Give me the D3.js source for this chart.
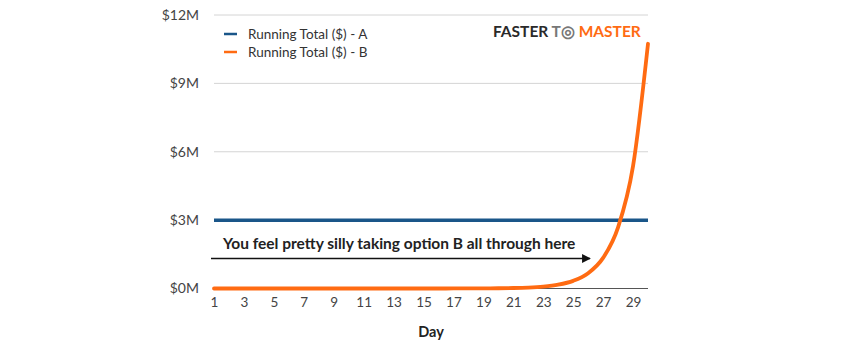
<!DOCTYPE html>
<html>
<head>
<meta charset="utf-8">
<script src="https://cdn.jsdelivr.net/npm/d3@7"></script>
<style>
  body { margin: 0; background: #fff; }
  svg text { font-family: Lato, "Open Sans", sans-serif; }
</style>
</head>
<body>
<svg id="chart" width="867" height="345"></svg>
<script>
// Data
const days = d3.range(1, 31);
const totalA = [3000000, 3000000, 3000000, 3000000, 3000000, 3000000, 3000000, 3000000, 3000000, 3000000,
    3000000, 3000000, 3000000, 3000000, 3000000, 3000000, 3000000, 3000000, 3000000, 3000000,
    3000000, 3000000, 3000000, 3000000, 3000000, 3000000, 3000000, 3000000, 3000000, 3000000];
const totalB = [0.01, 0.03, 0.07, 0.15, 0.31, 0.63, 1.27, 2.55, 5.11, 10.23,
    20.47, 40.95, 81.91, 163.83, 327.67, 655.35, 1310.71, 2621.43, 5242.87, 10485.75,
    20971.51, 41943.03, 83886.07, 167772.15, 335544.31, 671088.63, 1342177.27, 2684354.55, 5368709.11, 10737418.23];
const yTicks = [0, 3000000, 6000000, 9000000, 12000000];
const xTicks = [1, 3, 5, 7, 9, 11, 13, 15, 17, 19, 21, 23, 25, 27, 29];
const seriesNames = ["Running Total ($) - A", "Running Total ($) - B"];
const seriesColors = ["#1a5689", "#ff6b12"];
const annotation = "You feel pretty silly taking option B all through here";

const svg = d3.select("#chart");

// Scales
const x = d3.scaleLinear().domain([1, 30]).range([214, 648]);
const y = d3.scaleLinear().domain([0, 12000000]).range([288.5, 15]);

// Gridlines
svg.append("g")
    .selectAll("line")
    .data(yTicks.filter(d => d > 0))
    .enter().append("line")
    .attr("x1", 214).attr("x2", 648)
    .attr("y1", d => y(d)).attr("y2", d => y(d))
    .attr("stroke", "#d4d4d4")
    .attr("stroke-width", 1);

// Baseline
svg.append("line")
    .attr("x1", 214).attr("x2", 648)
    .attr("y1", y(0)).attr("y2", y(0))
    .attr("stroke", "#555")
    .attr("stroke-width", 1);

// Y axis labels
const yAxis = svg.append("g")
    .attr("transform", "translate(214,0)")
    .call(d3.axisLeft(y).tickValues(yTicks).tickSize(0).tickPadding(15)
        .tickFormat(d => "$" + (d / 1000000) + "M"));
yAxis.select(".domain").remove();
yAxis.selectAll("text")
    .style("font-family", "Lato, sans-serif")
    .style("font-size", "14px")
    .attr("fill", "#444");

// X axis labels
const xAxis = svg.append("g")
    .attr("transform", `translate(0,${y(0)})`)
    .call(d3.axisBottom(x).tickValues(xTicks).tickSize(0).tickPadding(9).tickFormat(d3.format("d")));
xAxis.select(".domain").remove();
xAxis.selectAll("text")
    .style("font-family", "Lato, sans-serif")
    .style("font-size", "13.5px")
    .attr("fill", "#444");

// X axis title
svg.append("text")
    .attr("x", 431)
    .attr("y", 337)
    .attr("text-anchor", "middle")
    .style("font-size", "14.5px")
    .style("font-weight", "bold")
    .attr("fill", "#222")
    .text("Day");

// Lines
const line = d3.line()
    .x((d, i) => x(days[i]))
    .y(d => y(d))
    .curve(d3.curveMonotoneX);

svg.append("path")
    .datum(totalA)
    .attr("d", line)
    .attr("fill", "none")
    .attr("stroke", seriesColors[0])
    .attr("stroke-width", 3.5);

svg.append("path")
    .datum(totalB)
    .attr("d", line)
    .attr("fill", "none")
    .attr("stroke", seriesColors[1])
    .attr("stroke-width", 3.8)
    .attr("stroke-linecap", "round");

// Annotation arrow
svg.append("defs").append("marker")
    .attr("id", "arrowhead")
    .attr("viewBox", "0 0 10 10")
    .attr("refX", 9).attr("refY", 5)
    .attr("markerWidth", 6.5).attr("markerHeight", 5.5)
    .attr("orient", "auto")
    .append("path")
    .attr("d", "M0,0 L10,5 L0,10 Z")
    .attr("fill", "#111");

svg.append("line")
    .attr("x1", 211).attr("x2", 590)
    .attr("y1", 258.5).attr("y2", 258.5)
    .attr("stroke", "#111")
    .attr("stroke-width", 1.6)
    .attr("marker-end", "url(#arrowhead)");

svg.append("text")
    .attr("x", 223)
    .attr("y", 249)
    .style("font-size", "15.5px")
    .style("font-weight", "bold")
    .attr("fill", "#222")
    .text(annotation);

// Legend
const legend = svg.append("g");
seriesNames.forEach((name, i) => {
    legend.append("line")
        .attr("x1", 224).attr("x2", 237)
        .attr("y1", 34 + i * 18).attr("y2", 34 + i * 18)
        .attr("stroke", seriesColors[i])
        .attr("stroke-width", 2.5);
    legend.append("text")
        .attr("x", 248)
        .attr("y", 34 + i * 18)
        .attr("dy", "0.35em")
        .style("font-size", "13.5px")
        .attr("fill", "#333")
        .text(name);
});

// Logo
const logo = svg.append("text")
    .attr("x", 493)
    .attr("y", 37)
    .style("font-size", "15.5px")
    .style("font-weight", "bold");
logo.append("tspan").attr("fill", "#2a2a2a").text("FASTER ");
logo.append("tspan").attr("fill", "#777").text("T");
logo.append("tspan").attr("fill", "#777").text("\u25CE");
logo.append("tspan").attr("fill", "#ff6b12").text(" MASTER");
</script>
</body>
</html>
